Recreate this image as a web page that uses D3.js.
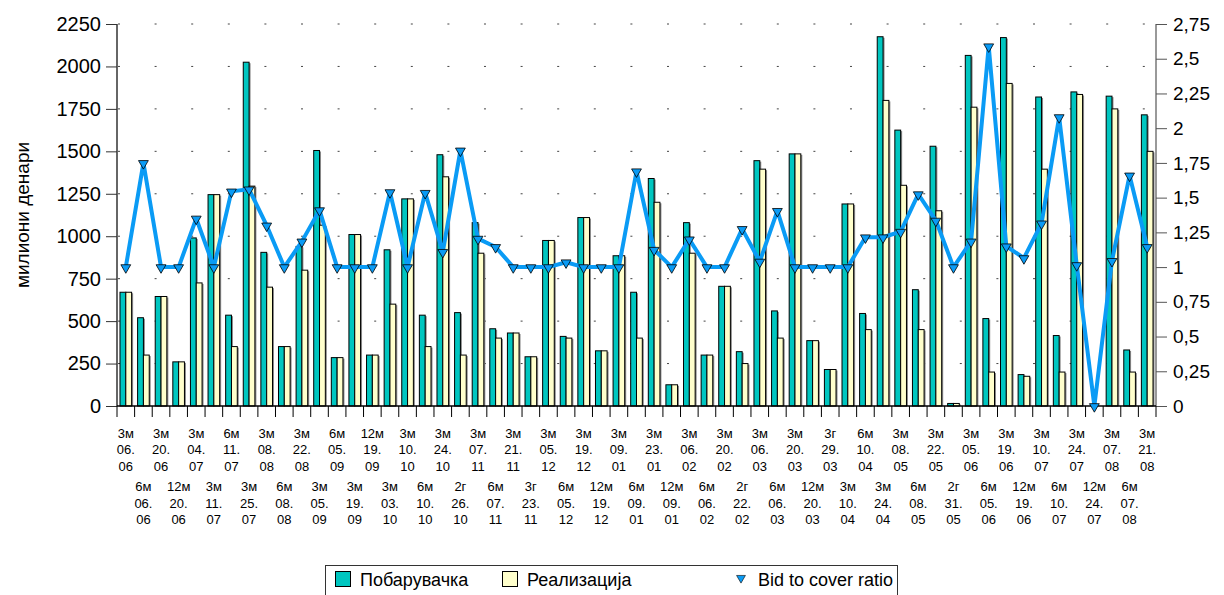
<!DOCTYPE html>
<html>
<head>
<meta charset="utf-8">
<script src="https://cdn.jsdelivr.net/npm/d3@7"></script>
<style>
  body { margin: 0; background: #fff; }
  svg { display: block; font-family: 'Liberation Sans', Arial, sans-serif; }
</style>
</head>
<body>
<svg id="chart" width="1224" height="595"></svg>
<script>

// auctions: maturity + date (dd.mm)
const terms = ['3м','6м','3м','12м','3м','3м','6м','3м','3м','6м',
               '3м','3м','6м','3м','12м','3м','3м','6м','3м','2г',
               '3м','6м','3м','3г','3м','6м','3м','12м','3м','6м',
               '3м','12м','3м','6м','3м','2г','3м','6м','3м','12м',
               '3г','3м','6м','3м','3м','6м','3м','2г','3м','6м',
               '3м','12м','3м','6м','3м','12м','3м','6м','3м']

const dates = ['06.06','06.06','20.06','20.06','04.07','11.07','11.07','25.07','08.08','08.08',
               '22.08','05.09','05.09','19.09','19.09','03.10','10.10','10.10','24.10','26.10',
               '07.11','07.11','21.11','23.11','05.12','05.12','19.12','19.12','09.01','09.01',
               '23.01','09.01','06.02','06.02','20.02','22.02','06.03','06.03','20.03','20.03',
               '29.03','10.04','10.04','24.04','08.05','08.05','22.05','31.05','05.06','05.06',
               '19.06','19.06','10.07','10.07','24.07','24.07','07.08','07.08','21.08']

// Побарувачка (millions of denars)
const demand = [670, 520, 645, 260, 990, 1245, 535, 2025, 905, 350,
                940, 1505, 285, 1010, 300, 920, 1220, 535, 1480, 550,
                1080, 455, 430, 290, 975, 410, 1110, 325, 885, 670,
                1340, 125, 1080, 300, 705, 320, 1445, 560, 1485, 385,
                215, 1190, 545, 2175, 1625, 685, 1530, 15, 2065, 515,
                2170, 185, 1820, 415, 1850, 0, 1825, 330, 1715]

// Реализација
const realized = [670, 300, 645, 260, 725, 1245, 350, 1295, 700, 350,
                  800, 1065, 285, 1010, 300, 600, 1220, 350, 1350, 300,
                  900, 400, 430, 290, 975, 400, 1110, 325, 885, 400,
                  1200, 125, 900, 300, 705, 250, 1395, 400, 1485, 385,
                  215, 1190, 450, 1800, 1300, 450, 1150, 15, 1760, 200,
                  1900, 175, 1395, 200, 1835, 0, 1750, 200, 1500]

// Bid to cover ratio
const ratio = [1.0, 1.75, 1.0, 1.0, 1.35, 1.0, 1.545, 1.56, 1.3, 1.0,
               1.185, 1.41, 1.0, 1.0, 1.0, 1.54, 1.0, 1.535, 1.11, 1.84,
               1.205, 1.145, 1.0, 1.0, 1.0, 1.035, 1.0, 1.0, 1.0, 1.69,
               1.125, 1.0, 1.2, 1.0, 1.0, 1.275, 1.04, 1.405, 1.0, 1.0,
               1.0, 1.0, 1.215, 1.215, 1.255, 1.525, 1.335, 1.0, 1.185, 2.59,
               1.15, 1.065, 1.315, 2.08, 1.015, 0, 1.045, 1.66, 1.145]

const leftTicks = [0, 250, 500, 750, 1000, 1250, 1500, 1750, 2000, 2250]
const rightTicks = [0, 0.25, 0.5, 0.75, 1, 1.25, 1.5, 1.75, 2, 2.25, 2.5, 2.75]

const series = ['Побарувачка', 'Реализација']
const colors = { 'Побарувачка': '#00c6c0', 'Реализација': '#ffffcc' }
const lineColor = '#0a9bf5'

const svg = d3.select('#chart')

const plotLeft = 117, plotRight = 1156, plotTop = 24, plotBottom = 406

const idx = d3.range(demand.length)

const x = d3.scaleBand().domain(idx).range([plotLeft, plotRight])
const bw = x.bandwidth()
const x1 = d3.scaleBand().domain(series).range([bw * 0.17, bw * 0.83])

const y = d3.scaleLinear().domain([0, 2250]).range([plotBottom, plotTop])
const y2 = d3.scaleLinear().domain([0, 2.75]).range([plotBottom, plotTop])

// gridlines
svg.append('g').attr('id', 'grid')
    .selectAll('line').data(leftTicks.slice(1)).enter()
    .append('line')
    .attr('x1', plotLeft + 1).attr('x2', plotRight)
    .attr('y1', d => y(d)).attr('y2', d => y(d))
    .attr('stroke', '#444')
    .attr('stroke-width', 1)
    .attr('stroke-dasharray', '2,34.6')

// bars
const rows = idx.map(i => ({ i, values: [
    { key: series[0], v: demand[i] },
    { key: series[1], v: realized[i] } ] }))

const groups = svg.append('g').attr('id', 'bars')
    .selectAll('g').data(rows).enter()
    .append('g')
    .attr('transform', d => `translate(${x(d.i)},0)`)

groups.selectAll('rect.shadow').data(d => d.values.filter(v => v.v > 0)).enter()
    .append('rect').attr('class', 'shadow')
    .attr('x', d => x1(d.key) + 1.5)
    .attr('y', d => y(d.v) + 1)
    .attr('width', x1.bandwidth())
    .attr('height', d => plotBottom - y(d.v) - 1)
    .attr('fill', '#8a8a8a')

groups.selectAll('rect.bar').data(d => d.values.filter(v => v.v > 0)).enter()
    .append('rect').attr('class', 'bar')
    .attr('x', d => x1(d.key))
    .attr('y', d => y(d.v))
    .attr('width', x1.bandwidth())
    .attr('height', d => plotBottom - y(d.v))
    .attr('fill', d => colors[d.key])
    .attr('stroke', '#000')
    .attr('stroke-width', 1)

// axes
const yAxis = d3.axisLeft(y).tickValues(leftTicks).tickSize(11).tickPadding(5).tickFormat(d3.format('d'))
const yg = svg.append('g').attr('transform', `translate(${plotLeft},0)`).call(yAxis)
yg.select('.domain').attr('d', `M0,${plotTop}V${plotBottom}`).attr('stroke', '#333').attr('stroke-width', 1.5)
yg.selectAll('.tick line').attr('stroke', '#333')
yg.selectAll('.tick text').attr('font-size', 20).attr('fill', '#000')

const y2Axis = d3.axisRight(y2).tickValues(rightTicks).tickSize(11).tickPadding(6)
    .tickFormat(d => String(d).replace('.', ','))
const y2g = svg.append('g').attr('transform', `translate(${plotRight},0)`).call(y2Axis)
y2g.select('.domain').attr('d', `M0,${plotTop}V${plotBottom}`).attr('stroke', '#777').attr('stroke-width', 1.5)
y2g.selectAll('.tick line').attr('stroke', '#555')
y2g.selectAll('.tick text').attr('font-size', 19).attr('fill', '#000')

// x axis line and category ticks
const xg = svg.append('g').attr('id', 'xg')
xg.append('line')
    .attr('x1', plotLeft).attr('x2', plotRight)
    .attr('y1', plotBottom).attr('y2', plotBottom)
    .attr('stroke', '#000').attr('stroke-width', 1.5)

xg.selectAll('line.tick').data(d3.range(demand.length + 1)).enter()
    .append('line').attr('class', 'tick')
    .attr('x1', k => plotLeft + k * bw).attr('x2', k => plotLeft + k * bw)
    .attr('y1', plotBottom).attr('y2', plotBottom + 11)
    .attr('stroke', '#000')

// category labels, alternating rows
const labels = xg.selectAll('text.cat').data(idx).enter()
    .append('text').attr('class', 'cat')
    .attr('text-anchor', 'middle')
    .attr('font-size', 13)
    .attr('fill', '#000')

labels.each(function (i) {
    const t = d3.select(this)
    const base = i % 2 === 0 ? 437.5 : 491
    const parts = dates[i].split('.')
    const lines = [terms[i], parts[0] + '.', parts[1]]
    lines.forEach((s, j) => {
        t.append('tspan')
            .attr('x', x(i) + bw / 2)
            .attr('y', base + j * 16.6)
            .text(s)
    })
})

// ratio line
const line = d3.line().x(i => x(i) + bw / 2).y(i => y2(ratio[i]))

svg.append('path')
    .datum(idx)
    .attr('fill', 'none')
    .attr('stroke', lineColor)
    .attr('stroke-width', 4)
    .attr('stroke-linejoin', 'round')
    .attr('d', line)

const tri = d3.symbol().type(d3.symbolTriangle).size(42)

svg.append('g').attr('id', 'markers')
    .selectAll('path').data(idx).enter()
    .append('path')
    .attr('d', tri)
    .attr('transform', i => `translate(${x(i) + bw / 2},${y2(ratio[i]) + 0.5}) rotate(180)`)
    .attr('fill', lineColor)
    .attr('stroke', '#000')
    .attr('stroke-width', 0.8)

// y title
svg.append('text')
    .attr('transform', 'translate(29,215) rotate(-90)')
    .attr('text-anchor', 'middle')
    .attr('font-size', 19)
    .attr('fill', '#000')
    .text('милиони денари')

// legend
const lg = svg.append('g').attr('id', 'legend')
lg.append('rect')
    .attr('x', 325.5).attr('y', 565.5)
    .attr('width', 572).attr('height', 40)
    .attr('fill', '#fff')
    .attr('stroke', '#333')

const items = [
    { label: series[0], x: 335, type: 'rect', color: colors[series[0]] },
    { label: series[1], x: 502, type: 'rect', color: colors[series[1]] },
    { label: 'Bid to cover ratio', x: 734, type: 'tri', color: lineColor }
]

items.forEach(it => {
    if (it.type === 'rect') {
        lg.append('rect')
            .attr('x', it.x + 0.5).attr('y', 571.5)
            .attr('width', 15).attr('height', 15)
            .attr('fill', it.color)
            .attr('stroke', '#000')
        lg.append('text')
            .attr('x', it.x + 25).attr('y', 586)
            .attr('font-size', 18)
            .text(it.label)
    } else {
        lg.append('path')
            .attr('d', d3.symbol().type(d3.symbolTriangle).size(34))
            .attr('transform', `translate(${it.x + 7},578) rotate(180)`)
            .attr('fill', it.color)
            .attr('stroke', '#000')
            .attr('stroke-width', 0.6)
        lg.append('text')
            .attr('x', it.x + 24).attr('y', 586)
            .attr('font-size', 18)
            .text(it.label)
    }
})

</script>
</body>
</html>
